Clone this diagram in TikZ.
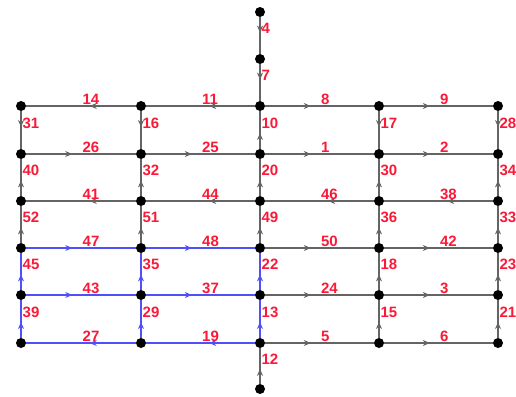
\documentclass[tikz,border=0pt]{standalone}
\usepackage{fontspec}
\setmainfont{Liberation Sans}
\usetikzlibrary{decorations.markings,arrows.meta}
\definecolor{edgegray}{RGB}{100,100,100}
\definecolor{selblue}{RGB}{80,80,250}
\definecolor{lblred}{RGB}{250,25,55}

\begin{document}
\begin{tikzpicture}[x=1pt,y=-1pt,>={Stealth[length=7pt,width=6pt]},
  dot/.style={circle,fill=black,minimum size=10pt,inner sep=0pt},
  edge/.style={draw=edgegray,line width=1.4pt,postaction={decorate},
    decoration={markings,mark=at position 0.42 with {\arrow{>}}}},
  sel/.style={edge,draw=selblue,line width=1.8pt},
  lbl/.style={midway,anchor=south west,inner sep=0.8pt,text=lblred,
    font=\fontsize{15}{15}\selectfont\bfseries}]
\useasboundingbox (0,0) rectangle (516,396);
% grid of junctions
\foreach \c/\x in {0/21,1/141,2/260,3/379,4/498}
  \foreach \r/\y in {1/106,2/154,3/201,4/248,5/295,6/343}
    \node[dot] (n\c-\r) at (\x,\y) {};
\node[dot] (t1) at (260,12) {};
\node[dot] (t2) at (260,59) {};
\node[dot] (bt) at (260,389) {};
% plain links
\foreach \a/\b/\l in {t1/t2/4, t2/n2-1/7,
    n1-1/n0-1/14, n2-1/n1-1/11, n2-1/n3-1/8, n3-1/n4-1/9,
    n0-1/n0-2/31, n1-1/n1-2/16, n2-2/n2-1/10, n3-1/n3-2/17, n4-1/n4-2/28,
    n0-2/n1-2/26, n1-2/n2-2/25, n2-2/n3-2/1, n3-2/n4-2/2,
    n0-3/n0-2/40, n1-3/n1-2/32, n2-3/n2-2/20, n3-3/n3-2/30, n4-3/n4-2/34,
    n1-3/n0-3/41, n2-3/n1-3/44, n3-3/n2-3/46, n4-3/n3-3/38,
    n0-4/n0-3/52, n1-4/n1-3/51, n2-4/n2-3/49, n3-4/n3-3/36, n4-4/n4-3/33,
    n2-4/n3-4/50, n3-4/n4-4/42,
    n3-5/n3-4/18, n4-5/n4-4/23,
    n2-5/n3-5/24, n3-5/n4-5/3,
    n3-6/n3-5/15, n4-6/n4-5/21,
    n2-6/n3-6/5, n3-6/n4-6/6,
    bt/n2-6/12}
  \draw[edge] (\a) -- node[lbl] {\l} (\b);
% selected links
\foreach \a/\b/\l in {n0-4/n1-4/47, n1-4/n2-4/48,
    n0-5/n0-4/45, n1-5/n1-4/35, n2-5/n2-4/22,
    n0-5/n1-5/43, n1-5/n2-5/37,
    n0-6/n0-5/39, n1-6/n1-5/29, n2-6/n2-5/13,
    n1-6/n0-6/27, n2-6/n1-6/19}
  \draw[sel] (\a) -- node[lbl] {\l} (\b);
\end{tikzpicture}
\end{document}
